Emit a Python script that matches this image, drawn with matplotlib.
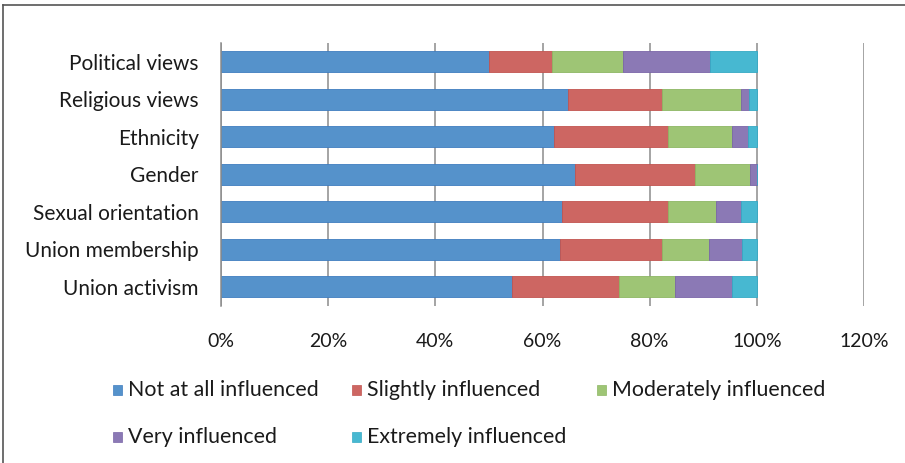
import numpy as np
import matplotlib
matplotlib.use('agg')
import matplotlib.pyplot as plt
from matplotlib.lines import Line2D
from matplotlib.patches import Rectangle

plt.rcParams['font.family'] = ['Lato', 'DejaVu Sans']

categories = ['Political views', 'Religious views', 'Ethnicity', 'Gender',
              'Sexual orientation', 'Union membership', 'Union activism']
series_names = ['Not at all influenced', 'Slightly influenced', 'Moderately influenced',
                'Very influenced', 'Extremely influenced']

# percentages, one list per response level
not_at_all = [50.0, 64.7, 62.1, 66.1, 63.7, 63.2, 54.4]
slightly = [11.8, 17.6, 21.3, 22.3, 19.7, 19.1, 19.9]
moderately = [13.3, 14.8, 12.0, 10.4, 9.0, 8.8, 10.4]
very = [16.2, 1.4, 2.9, 1.2, 4.7, 6.1, 10.7]
extremely = [8.7, 1.5, 1.7, 0.0, 2.9, 2.8, 4.6]

x_ticks = [0, 20, 40, 60, 80, 100, 120]
x_ticklabels = ['0%', '20%', '40%', '60%', '80%', '100%', '120%']

colors = ['#5592CB', '#CD6662', '#9EC575', '#8B79B5', '#47B8D1']
edges = ['#3F7DC0', '#C25450', '#8DB763', '#7A66A8', '#35A9C4']

fig = plt.figure(figsize=(9.05, 4.63), dpi=100)
ax = fig.add_axes([221 / 905, 1 - 305.5 / 463, (864 - 221) / 905, (305.5 - 43) / 463])

y = np.arange(len(categories))
left = np.zeros(len(categories))
for vals, name, c, ec in zip([not_at_all, slightly, moderately, very, extremely],
                             series_names, colors, edges):
    vals = np.array(vals) / 100.0
    ax.barh(y, vals, left=left, height=0.57, color=c, edgecolor=ec, linewidth=0.6,
            label=name, zorder=3)
    left += vals

ax.set_xlim(0, 1.2)
ax.set_ylim(len(categories) - 0.5, -0.5)
ax.set_xticks(np.array(x_ticks) / 100.0)
ax.set_xticklabels(x_ticklabels)
ax.set_yticks(y)
ax.set_yticklabels(categories)
ax.tick_params(axis='both', length=0, labelsize=14, colors='#1a1a1a')
ax.tick_params(axis='y', pad=16, labelsize=15)
ax.tick_params(axis='x', pad=20)
ax.grid(axis='x', color='#8c8c8c', linewidth=1.1, zorder=0)
for s in ['top', 'right', 'bottom']:
    ax.spines[s].set_visible(False)
ax.spines['left'].set_color('#8c8c8c')
ax.spines['left'].set_linewidth(1.1)
ax.spines['left'].set_zorder(4)

# legend laid out by hand, like the original
leg_pos = {0: (113, 390), 1: (352, 390), 2: (597, 390), 3: (113, 437), 4: (352, 437)}
for i in range(len(series_names)):
    px, py = leg_pos[i]
    fig.patches.append(Rectangle((px / 905, 1 - (py + 5) / 463), 9 / 905, 10 / 463,
                                 transform=fig.transFigure, facecolor=colors[i],
                                 edgecolor=edges[i], linewidth=0.5))
    fig.text((px + 15) / 905, 1 - py / 463, series_names[i], fontsize=15.4,
             va='center', ha='left', color='#1a1a1a')

# chart border (top and left visible)
fig.add_artist(Line2D([3 / 905, 3 / 905], [0, 1 - 4.5 / 463], transform=fig.transFigure,
                      color='#555555', linewidth=1.2))
fig.add_artist(Line2D([3 / 905, 1], [1 - 4.5 / 463, 1 - 4.5 / 463], transform=fig.transFigure,
                      color='#555555', linewidth=1.2))

fig.savefig('out.png', dpi=100)
